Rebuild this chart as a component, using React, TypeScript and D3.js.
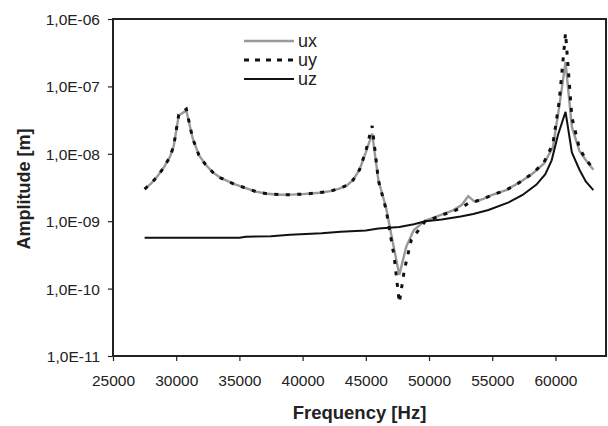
import React, { useRef, useEffect } from "react";
import * as d3 from "d3";

// frequency response
const uxFreq = [27500, 28000, 28500, 29000, 29500, 29800, 30200, 30800, 31300, 31800, 32300, 32900, 33500, 34500, 35500, 36300, 37200, 38200, 39100, 40000, 41300, 42200, 42900, 43500, 44000, 44500, 45000, 45500, 46000, 46600, 47100, 47650, 48200, 48800, 49700, 50500, 51200, 51900, 52600, 53100, 53600, 54300, 55000, 56100, 57100, 58200, 59100, 59800, 60300, 60800, 61300, 61900, 62400, 63000];
const uxVals = [3.0e-9, 3.6e-9, 4.6e-9, 6.2e-9, 9.0e-9, 1.3e-8, 3.7e-8, 4.4e-8, 1.7e-8, 9.5e-9, 7.0e-9, 5.3e-9, 4.4e-9, 3.6e-9, 3.1e-9, 2.75e-9, 2.55e-9, 2.47e-9, 2.48e-9, 2.52e-9, 2.64e-9, 2.8e-9, 3.05e-9, 3.4e-9, 4.1e-9, 5.8e-9, 1.05e-8, 2.0e-8, 4.0e-9, 1.6e-9, 5.2e-10, 1.6e-10, 4.2e-10, 7.4e-10, 1.02e-9, 1.15e-9, 1.3e-9, 1.45e-9, 1.75e-9, 2.35e-9, 1.95e-9, 2.15e-9, 2.45e-9, 2.9e-9, 3.7e-9, 5.1e-9, 7.2e-9, 1.25e-8, 5.0e-8, 2.3e-7, 2.5e-8, 1.1e-8, 8.1e-9, 5.8e-9];

const uyFreq = [27500, 28000, 28500, 29000, 29500, 29800, 30200, 30800, 31300, 31800, 32300, 32900, 33500, 34500, 35500, 36300, 37200, 38200, 39100, 40000, 41300, 42200, 42900, 43500, 44000, 44500, 45000, 45500, 46000, 46600, 47250, 47650, 48050, 48600, 49700, 50500, 51200, 51900, 52600, 53100, 53600, 54300, 55000, 56100, 57100, 58200, 59100, 59800, 60300, 60800, 61300, 61900, 62400, 63000];
const uyVals = [3.0e-9, 3.6e-9, 4.6e-9, 6.2e-9, 9.0e-9, 1.3e-8, 3.8e-8, 4.6e-8, 1.7e-8, 9.5e-9, 7.0e-9, 5.3e-9, 4.4e-9, 3.6e-9, 3.1e-9, 2.75e-9, 2.55e-9, 2.47e-9, 2.48e-9, 2.52e-9, 2.64e-9, 2.8e-9, 3.05e-9, 3.4e-9, 4.1e-9, 5.8e-9, 1.1e-8, 2.6e-8, 4.0e-9, 1.5e-9, 2.9e-10, 6.2e-11, 1.9e-10, 5.3e-10, 1.0e-9, 1.13e-9, 1.27e-9, 1.4e-9, 1.6e-9, 1.85e-9, 1.95e-9, 2.15e-9, 2.45e-9, 2.9e-9, 3.7e-9, 5.1e-9, 7.5e-9, 1.4e-8, 6.0e-8, 6.2e-7, 3.5e-8, 1.2e-8, 8.3e-9, 6.0e-9];

const uzFreq = [27500, 35000, 35500, 37500, 39000, 41500, 43000, 45000, 46000, 47650, 48800, 49700, 51000, 52500, 53500, 54700, 56300, 57400, 58500, 59200, 59700, 60200, 60800, 61300, 61900, 62400, 63000];
const uzVals = [5.7e-10, 5.7e-10, 5.9e-10, 6.0e-10, 6.3e-10, 6.6e-10, 7.0e-10, 7.3e-10, 7.8e-10, 8.2e-10, 9.0e-10, 1.0e-9, 1.06e-9, 1.17e-9, 1.28e-9, 1.47e-9, 1.9e-9, 2.45e-9, 3.5e-9, 5.0e-9, 8.0e-9, 1.9e-8, 4.2e-8, 1.05e-8, 5.8e-9, 3.9e-9, 2.9e-9];

const xTicks = [25000, 30000, 35000, 40000, 45000, 50000, 55000, 60000];
const yTicks = [1e-11, 1e-10, 1e-9, 1e-8, 1e-7, 1e-6];
const yTickLabels = ["1,0E-11", "1,0E-10", "1,0E-09", "1,0E-08", "1,0E-07", "1,0E-06"];

const seriesNames = ["ux", "uy", "uz"];

const App = () => {
  const svgRef = useRef<SVGSVGElement>(null);

  useEffect(() => {
    const width = 608;
    const height = 426;
    const margin = { top: 19, right: 2, bottom: 70, left: 113 };
    const font = "'Liberation Sans', Arial, sans-serif";
    const dash = "4,7.5";

    const svg = d3.select(svgRef.current);
    svg.selectAll("*").remove();

    const x = d3
      .scaleLinear()
      .domain([25000, 64000])
      .range([margin.left, width - margin.right]);

    const y = d3
      .scaleLog()
      .domain([1e-11, 1e-6])
      .range([height - margin.bottom, margin.top]);

    const xAxis = d3
      .axisBottom(x)
      .tickValues(xTicks)
      .tickFormat((d) => String(d))
      .tickSize(5)
      .tickSizeOuter(0);

    const yAxis = d3
      .axisLeft(y)
      .tickValues(yTicks)
      .tickFormat((_, i) => yTickLabels[i])
      .tickSize(5)
      .tickSizeOuter(0);

    const gx = svg
      .append("g")
      .attr("transform", `translate(0,${height - margin.bottom})`)
      .call(xAxis);
    gx.select(".domain").remove();
    gx.selectAll("line").attr("stroke", "#222").attr("stroke-width", 1.2);
    gx.selectAll("text")
      .attr("font-family", font)
      .attr("font-size", 15.5)
      .attr("fill", "#222")
      .attr("y", 30)
      .attr("dy", null);

    const gy = svg
      .append("g")
      .attr("transform", `translate(${margin.left},0)`)
      .call(yAxis);
    gy.select(".domain").remove();
    gy.selectAll("line").attr("stroke", "#222").attr("stroke-width", 1.2);
    gy.selectAll("text")
      .attr("font-family", font)
      .attr("font-size", 15.5)
      .attr("fill", "#222")
      .attr("x", -13)
      .attr("dy", "0.35em");

    const line = d3
      .line<[number, number]>()
      .x((d) => x(d[0]))
      .y((d) => y(d[1]));

    const pts = (f: number[], v: number[]) => f.map((d, i) => [d, v[i]] as [number, number]);

    svg
      .append("path")
      .attr("d", line(pts(uxFreq, uxVals)))
      .attr("fill", "none")
      .attr("stroke", "#999")
      .attr("stroke-width", 2.4);

    svg
      .append("path")
      .attr("d", line(pts(uyFreq, uyVals)))
      .attr("fill", "none")
      .attr("stroke", "#111")
      .attr("stroke-width", 3)
      .attr("stroke-dasharray", dash);

    svg
      .append("path")
      .attr("d", line(pts(uzFreq, uzVals)))
      .attr("fill", "none")
      .attr("stroke", "#111")
      .attr("stroke-width", 2);

    // plot frame
    svg
      .append("rect")
      .attr("x", margin.left)
      .attr("y", margin.top)
      .attr("width", width - margin.right - margin.left)
      .attr("height", height - margin.bottom - margin.top)
      .attr("fill", "none")
      .attr("stroke", "#222")
      .attr("stroke-width", 2);

    // legend
    const legend = svg.append("g").attr("transform", "translate(244,41)");
    const styles = [
      { stroke: "#999", width: 2.4, dash: null },
      { stroke: "#111", width: 3, dash: "5,6" },
      { stroke: "#111", width: 2, dash: null },
    ];
    seriesNames.forEach((name, i) => {
      const row = legend.append("g").attr("transform", `translate(0,${i * 19})`);
      row
        .append("line")
        .attr("x1", 0)
        .attr("x2", 50)
        .attr("stroke", styles[i].stroke)
        .attr("stroke-width", styles[i].width)
        .attr("stroke-dasharray", styles[i].dash);
      row
        .append("text")
        .attr("x", 54)
        .attr("dy", "0.33em")
        .attr("font-family", font)
        .attr("font-size", 18)
        .attr("fill", "#222")
        .text(name);
    });

    svg
      .append("text")
      .attr("x", (margin.left + width - margin.right) / 2)
      .attr("y", 419)
      .attr("text-anchor", "middle")
      .attr("font-family", font)
      .attr("font-size", 18.5)
      .attr("font-weight", "bold")
      .attr("fill", "#222")
      .text("Frequency [Hz]");

    svg
      .append("text")
      .attr("transform", `translate(24,189) rotate(-90)`)
      .attr("text-anchor", "middle")
      .attr("dy", "0.35em")
      .attr("font-family", font)
      .attr("font-size", 18)
      .attr("font-weight", "bold")
      .attr("fill", "#222")
      .text("Amplitude [m]");
  }, []);

  return (
    <svg
      ref={svgRef}
      width={608}
      height={426}
      style={{ position: "absolute", left: 0, top: 0, background: "#fff" }}
    ></svg>
  );
};

export default App;
